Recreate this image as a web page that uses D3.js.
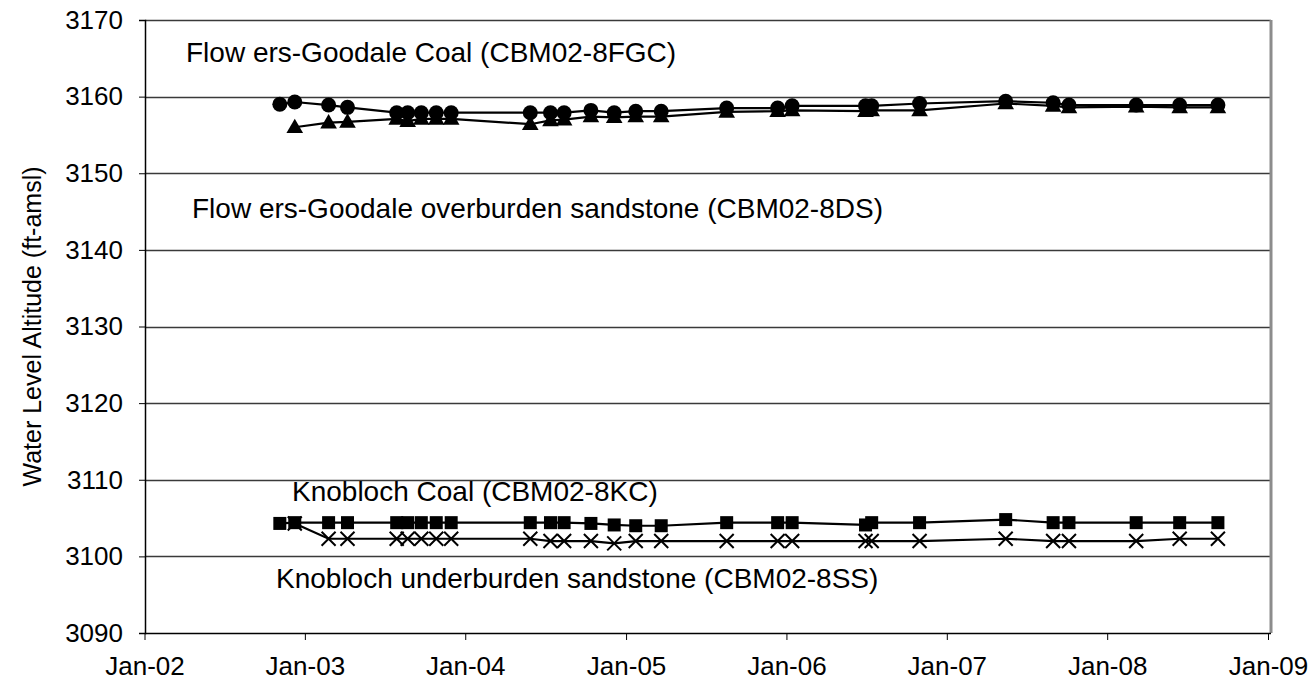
<!DOCTYPE html>
<html><head><meta charset="utf-8">
<script src="https://cdn.jsdelivr.net/npm/d3@7"></script>
<style>
body{margin:0;background:#fff}
svg text{font-family:Arial,"Liberation Sans",sans-serif;fill:#000}
</style>
</head><body>
<svg id="chart" width="1315" height="689"></svg>
<script>
// ---------- data ----------
const sampleDates = ["2002-11-05","2002-12-09","2003-02-24","2003-04-08","2003-07-29","2003-08-23","2003-09-23","2003-10-27","2003-11-30",
  "2004-05-28","2004-07-13","2004-08-13","2004-10-13","2004-12-05","2005-01-23","2005-03-22","2005-08-18","2005-12-12",
  "2006-01-14","2006-06-30","2006-07-14","2006-10-31","2007-05-15","2007-08-31","2007-10-06","2008-03-07","2008-06-14","2008-09-09"];
// Flowers-Goodale Coal (circles)
const fgcValues = [3159.0,3159.3,3158.9,3158.6,3157.9,3157.9,3157.9,3157.9,3157.9,3157.9,3157.9,3157.9,3158.2,3157.9,3158.1,3158.1,3158.5,3158.5,3158.8,3158.8,3158.8,3159.1,3159.4,3159.2,3158.9,3158.9,3158.9,3158.9];
// Flowers-Goodale overburden sandstone (triangles)
const dsValues = [null,3156.0,3156.6,3156.7,3157.1,3156.8,3157.1,3157.1,3157.1,3156.4,3156.9,3157.0,3157.4,3157.3,3157.4,3157.4,3158.0,3158.1,3158.2,3158.1,3158.2,3158.2,3159.1,3158.8,3158.6,3158.7,3158.6,3158.6];
// Knobloch Coal (squares)
const kcValues = [3104.3,3104.4,3104.4,3104.4,3104.4,3104.4,3104.4,3104.4,3104.4,3104.4,3104.4,3104.4,3104.3,3104.1,3104.0,3104.0,3104.4,3104.4,3104.4,3104.1,3104.4,3104.4,3104.8,3104.4,3104.4,3104.4,3104.4,3104.4];
// Knobloch underburden sandstone (crosses)
const ssValues = [null,3104.3,3102.3,3102.3,3102.3,3102.3,3102.3,3102.3,3102.3,3102.3,3102.0,3102.0,3102.0,3101.7,3102.0,3102.0,3102.0,3102.0,3102.0,3102.0,3102.0,3102.0,3102.3,3102.0,3102.0,3102.0,3102.3,3102.3];

const yTickValues = [3090,3100,3110,3120,3130,3140,3150,3160,3170];
const xTickDates = ["2002-01-01","2003-01-01","2004-01-01","2005-01-01","2006-01-01","2007-01-01","2008-01-01","2009-01-01"];
const xTickLabels = ["Jan-02","Jan-03","Jan-04","Jan-05","Jan-06","Jan-07","Jan-08","Jan-09"];
const yAxisTitle = "Water Level Altitude (ft-amsl)";
const seriesLabels = ["Flow ers-Goodale Coal (CBM02-8FGC)","Flow ers-Goodale overburden sandstone (CBM02-8DS)","Knobloch Coal (CBM02-8KC)","Knobloch underburden sandstone (CBM02-8SS)"];

// ---------- drawing ----------
const parse = d3.timeParse("%Y-%m-%d");
const svg = d3.select("#chart");
const L = 145, R = 1271, T = 20, B = 633;
const x = d3.scaleTime().domain([parse("2002-01-01"), parse("2009-01-01")]).range([144.5, 1268]);
const y = d3.scaleLinear().domain([3090, 3170]).range([B, T]);

// gridlines
svg.append("g").selectAll("line").data(yTickValues.filter(v => v > 3090)).join("line")
  .attr("x1", L).attr("x2", R).attr("y1", d => Math.round(y(d)) + 0.5).attr("y2", d => Math.round(y(d)) + 0.5)
  .attr("stroke", "#3a3a3a").attr("stroke-width", 1.3);
// right border
svg.append("line").attr("x1", R).attr("x2", R).attr("y1", T).attr("y2", B)
  .attr("stroke", "#8c8c8c").attr("stroke-width", 3);

// y axis
const yAxis = svg.append("g").attr("transform", `translate(${L},0)`)
  .call(d3.axisLeft(y).tickValues(yTickValues).tickSize(6).tickPadding(16).tickFormat(d3.format("d")));
yAxis.selectAll("text").style("font-size", "26px");
yAxis.select(".domain").attr("stroke", "#000").attr("stroke-width", 1.5);
yAxis.selectAll(".tick line").attr("stroke", "#000");

// x axis
const tickMap = new Map(xTickDates.map((d, i) => [+parse(d), xTickLabels[i]]));
const xAxis = svg.append("g").attr("transform", `translate(0,${B})`)
  .call(d3.axisBottom(x).tickValues(xTickDates.map(parse)).tickSize(7).tickPadding(17)
    .tickFormat(d => tickMap.get(+d)).tickSizeOuter(0));
xAxis.selectAll("text").style("font-size", "26px");
xAxis.select(".domain").attr("stroke", "#000").attr("stroke-width", 1.5)
  .attr("d", `M${L},0.5H${R}`);
xAxis.selectAll(".tick line").attr("stroke", "#000");

// y title
svg.append("text").attr("transform", `translate(34,${(T + B) / 2}) rotate(-90)`)
  .attr("text-anchor", "middle").attr("dominant-baseline", "middle")
  .style("font-size", "25px").text(yAxisTitle);

function seriesData(vals) {
  return vals.map((v, i) => ({ date: parse(sampleDates[i]), value: v })).filter(d => d.value != null);
}
const line = d3.line().x(d => x(d.date)).y(d => y(d.value));
const all = [
  { vals: fgcValues, shape: "circle" },
  { vals: dsValues, shape: "triangle" },
  { vals: kcValues, shape: "square" },
  { vals: ssValues, shape: "cross" }
];
all.forEach(s => {
  const data = seriesData(s.vals);
  svg.append("path").datum(data).attr("d", line).attr("fill", "none").attr("stroke", "#000").attr("stroke-width", 2.2);
});
const order = [1, 3, 0, 2];
order.forEach(k => {
  const s = all[k];
  const data = seriesData(s.vals);
  const g = svg.append("g");
  if (s.shape === "circle") {
    g.selectAll("circle").data(data).join("circle").attr("cx", d => x(d.date)).attr("cy", d => y(d.value)).attr("r", 7.5).attr("fill", "#000");
  } else if (s.shape === "triangle") {
    g.selectAll("path").data(data).join("path")
      .attr("d", d3.symbol(d3.symbolTriangle, 120))
      .attr("transform", d => `translate(${x(d.date)},${y(d.value) + 1})`).attr("fill", "#000");
  } else if (s.shape === "square") {
    g.selectAll("rect").data(data).join("rect")
      .attr("x", d => x(d.date) - 6.5).attr("y", d => y(d.value) - 6.5).attr("width", 13).attr("height", 13).attr("fill", "#000");
  } else {
    g.selectAll("path").data(data).join("path")
      .attr("d", "M-7,-7L7,7M-7,7L7,-7")
      .attr("transform", d => `translate(${x(d.date)},${y(d.value)})`).attr("stroke", "#000").attr("stroke-width", 2).attr("fill", "none");
  }
});

// series annotations
const labelPos = [[186, 55], [192, 211], [292, 494], [276, 581]];
svg.append("g").selectAll("text").data(seriesLabels).join("text")
  .attr("x", (d, i) => labelPos[i][0]).attr("y", (d, i) => labelPos[i][1])
  .attr("dominant-baseline", "middle").style("font-size", "28px").text(d => d);
</script>
</body></html>
